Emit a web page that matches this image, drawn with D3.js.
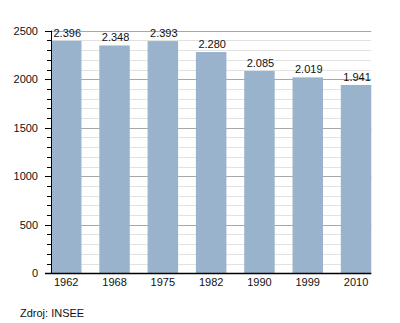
<!DOCTYPE html>
<html lang="cs">
<head>
<meta charset="UTF-8">
<title>Vývoj počtu obyvatel</title>
<script src="https://d3js.org/d3.v7.min.js"></script>
<style>
  body { margin: 0; background: #fff; }
  svg { display: block; font-family: "Liberation Sans", Arial, sans-serif; }
</style>
</head>
<body>
<svg id="chart" width="400" height="323"></svg>
<script>
// data
const years = ["1962", "1968", "1975", "1982", "1990", "1999", "2010"];
const population = [2396, 2348, 2393, 2280, 2085, 2019, 1941];
const yTicks = [0, 500, 1000, 1500, 2000, 2500];
const source = "Zdroj: INSEE";

const svg = d3.select("#chart");
const plot = {left: 51, right: 371.3, top: 30.7, bottom: 273.3};

const x = d3.scaleBand().domain(years).range([plot.left, plot.right]).paddingInner(0.369).paddingOuter(0);
const y = d3.scaleLinear().domain([0, 2500]).range([plot.bottom, plot.top]);

const minor = d3.range(0, 2501, 100);
const py = d => Math.round(y(d)) + 0.5;

// minor grid
svg.append("g").selectAll("line")
  .data(minor.filter(d => d % 500 !== 0))
  .enter().append("line")
  .attr("x1", plot.left).attr("x2", plot.right)
  .attr("y1", py).attr("y2", py)
  .attr("stroke", "#e2e2e2");

// major grid
svg.append("g").selectAll("line")
  .data(yTicks.filter(d => d > 0))
  .enter().append("line")
  .attr("x1", plot.left).attr("x2", plot.right)
  .attr("y1", py).attr("y2", py)
  .attr("stroke", "#a8a8a8");

// bars
svg.append("g").selectAll("rect")
  .data(population)
  .enter().append("rect")
  .attr("x", (d, i) => x(years[i]))
  .attr("width", x.bandwidth())
  .attr("y", d => y(d))
  .attr("height", d => y(0) - y(d))
  .attr("fill", "#9ab3cd");

// value labels
svg.append("g").selectAll("text")
  .data(population)
  .enter().append("text")
  .attr("x", (d, i) => x(years[i]) + x.bandwidth() / 2 + 1)
  .attr("y", d => y(d) - 4)
  .attr("text-anchor", "middle")
  .attr("font-size", 11)
  .attr("fill", "#111")
  .text(d => d3.format(",")(d).replace(",", "."));

// y axis with minor ticks
const yAxis = svg.append("g").attr("transform", `translate(${plot.left},0)`);
yAxis.append("line")
  .attr("x1", 0.5).attr("x2", 0.5).attr("y1", plot.top).attr("y2", plot.bottom)
  .attr("stroke", "#000");
yAxis.selectAll(".tick")
  .data(minor)
  .enter().append("line")
  .attr("class", "tick")
  .attr("x1", d => d % 500 === 0 ? -6 : -4).attr("x2", 0)
  .attr("y1", py).attr("y2", py)
  .attr("stroke", "#000");
yAxis.selectAll("text")
  .data(yTicks)
  .enter().append("text")
  .attr("x", -13)
  .attr("y", d => y(d))
  .attr("dy", "0.35em")
  .attr("text-anchor", "end")
  .attr("font-size", 11)
  .attr("fill", "#111")
  .text(d => d);

// x axis
const xAxis = svg.append("g").attr("transform", `translate(0,${Math.round(plot.bottom) + 0.5})`);
xAxis.append("line")
  .attr("x1", 45).attr("x2", plot.right)
  .attr("stroke", "#000").attr("stroke-width", 1.5);
xAxis.selectAll("text")
  .data(years)
  .enter().append("text")
  .attr("x", d => x(d) + x.bandwidth() / 2)
  .attr("y", 12)
  .attr("text-anchor", "middle")
  .attr("font-size", 11)
  .attr("fill", "#111")
  .text(d => d);

// source
svg.append("text")
  .attr("x", 20).attr("y", 316.5)
  .attr("font-size", 11)
  .attr("fill", "#111")
  .text(source);
</script>
</body>
</html>
